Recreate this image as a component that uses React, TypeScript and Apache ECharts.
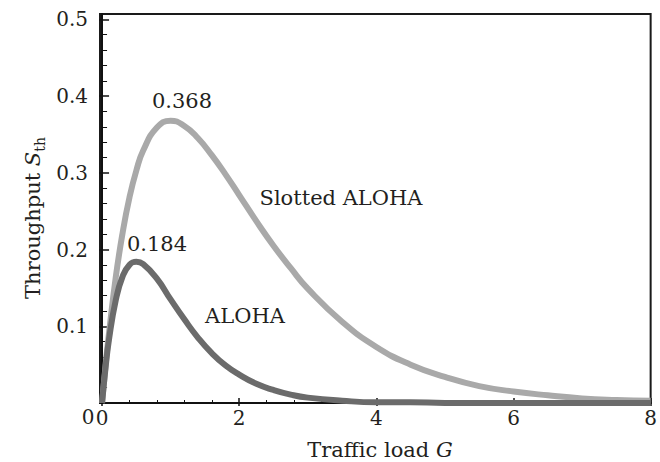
import React, { useEffect, useRef } from "react";
import * as echarts from "echarts";

// Traffic load G (x) and throughput S for each protocol
const loadG = [0, 0.05, 0.1, 0.2, 0.3, 0.4, 0.5, 0.6, 0.8, 1.0, 1.2, 1.4, 1.6, 1.8, 2.0, 2.25, 2.5, 2.75, 3.0, 3.5, 4.0, 4.5, 5.0, 5.5, 6.0, 6.5, 7.0, 7.5, 8.0];
const slottedAloha = [0, 0.048, 0.090, 0.164, 0.222, 0.268, 0.303, 0.329, 0.359, 0.368, 0.361, 0.345, 0.323, 0.298, 0.271, 0.237, 0.205, 0.176, 0.149, 0.106, 0.073, 0.050, 0.034, 0.022, 0.015, 0.010, 0.006, 0.004, 0.003];
const pureAloha = [0, 0.045, 0.082, 0.134, 0.165, 0.180, 0.184, 0.181, 0.162, 0.135, 0.109, 0.085, 0.065, 0.049, 0.037, 0.025, 0.017, 0.011, 0.007, 0.003, 0.001, 0.001, 0, 0, 0, 0, 0, 0, 0];

// Axis ticks
const xMajorTicks = [0, 2, 4, 6, 8];
const xMinorTicks = [0.4, 0.8, 1.2, 1.6, 2.4, 2.8, 3.2, 3.6, 4.4, 4.8, 5.2, 5.6, 6.4, 6.8, 7.2, 7.6];
const yMajorTicks = [0.1, 0.2, 0.3, 0.4, 0.5];
const yMinorTicks = [0.02, 0.04, 0.06, 0.08, 0.12, 0.14, 0.16, 0.18, 0.22, 0.24, 0.26, 0.28, 0.32, 0.34, 0.36, 0.38, 0.42, 0.44, 0.46, 0.48];

const X_MIN = -0.03;
const X_MAX = 8;
const Y_MIN = 0;
const Y_MAX = 0.507;

const SERIF = "DejaVu Serif";
const INK = "#231f20";

export default function App() {
  const ref = useRef<HTMLDivElement>(null);

  useEffect(() => {
    if (!ref.current) return;
    const chart = echarts.init(ref.current, null, { renderer: "svg" });

    const baseX = { type: "value", gridIndex: 0, min: X_MIN, max: X_MAX, splitLine: { show: false } };
    const baseY = { type: "value", gridIndex: 0, min: Y_MIN, max: Y_MAX, splitLine: { show: false } };

    const option: any = {
      animation: false,
      backgroundColor: "#ffffff",
      textStyle: { fontFamily: SERIF },
      grid: {
        left: 100,
        right: 4,
        top: 14,
        bottom: 59,
        show: true,
        borderColor: "#1a1a1a",
        borderWidth: 2,
        backgroundColor: "transparent",
      },
      xAxis: [
        {
          ...baseX,
          position: "bottom",
          axisLine: { show: true, lineStyle: { color: "#111", width: 2 } },
          axisTick: { show: true, inside: true, length: 5, customValues: xMajorTicks, lineStyle: { color: "#111", width: 1.5 } },
          axisLabel: {
            show: true,
            customValues: xMajorTicks,
            margin: 5,
            fontFamily: SERIF,
            fontSize: 20,
            color: INK,
            formatter: (v: number) => String(Math.round(v)),
          },
        },
        {
          ...baseX,
          position: "bottom",
          axisLine: { show: false },
          axisTick: { show: true, inside: true, length: 3, customValues: xMinorTicks, lineStyle: { color: "#111", width: 1 } },
          axisLabel: { show: false },
        },
        {
          ...baseX,
          position: "bottom",
          axisLine: { show: false },
          axisTick: { show: true, inside: false, length: 3, customValues: xMajorTicks, lineStyle: { color: "#111", width: 1.5 } },
          axisLabel: { show: false },
        },
      ],
      yAxis: [
        {
          ...baseY,
          position: "left",
          axisLine: { show: true, lineStyle: { color: "#111", width: 2 } },
          axisTick: { show: true, inside: true, length: 7, customValues: yMajorTicks, lineStyle: { color: "#111", width: 1.5 } },
          axisLabel: {
            show: true,
            customValues: yMajorTicks,
            margin: 12,
            fontFamily: SERIF,
            fontSize: 20,
            color: INK,
            formatter: (v: number) => v.toFixed(1),
          },
        },
        {
          ...baseY,
          position: "left",
          axisLine: { show: false },
          axisTick: { show: true, inside: true, length: 5, customValues: yMinorTicks, lineStyle: { color: "#111", width: 1 } },
          axisLabel: { show: false },
        },
        {
          ...baseY,
          position: "left",
          axisLine: { show: false },
          axisTick: { show: true, inside: false, length: 3, customValues: yMajorTicks, lineStyle: { color: "#111", width: 1.5 } },
          axisLabel: { show: false },
        },
      ],
      series: [
        {
          name: "Slotted ALOHA",
          type: "line",
          xAxisIndex: 0,
          yAxisIndex: 0,
          data: loadG.map((g, i) => [g, slottedAloha[i]]),
          showSymbol: false,
          smooth: true,
          lineStyle: { color: "#a9a9a9", width: 6 },
          z: 3,
        },
        {
          name: "ALOHA",
          type: "line",
          xAxisIndex: 0,
          yAxisIndex: 0,
          data: loadG.map((g, i) => [g, pureAloha[i]]),
          showSymbol: false,
          smooth: true,
          lineStyle: { color: "#6b6b6b", width: 6 },
          z: 4,
        },
      ],
      graphic: [
        {
          type: "text",
          x: 182,
          y: 101,
          style: { text: "0.368", fontFamily: SERIF, fontSize: 21, fill: INK, align: "center", verticalAlign: "middle" },
        },
        {
          type: "text",
          x: 341,
          y: 198,
          style: { text: "Slotted ALOHA", fontFamily: SERIF, fontSize: 21, fill: INK, align: "center", verticalAlign: "middle" },
        },
        {
          type: "text",
          x: 157,
          y: 244,
          style: { text: "0.184", fontFamily: SERIF, fontSize: 21, fill: INK, align: "center", verticalAlign: "middle" },
        },
        {
          type: "text",
          x: 245,
          y: 316,
          style: { text: "ALOHA", fontFamily: SERIF, fontSize: 21, fill: INK, align: "center", verticalAlign: "middle" },
        },
        {
          type: "text",
          x: 88,
          y: 417,
          style: { text: "0", fontFamily: SERIF, fontSize: 20, fill: INK, align: "center", verticalAlign: "middle" },
        },
        {
          type: "text",
          x: 380,
          y: 450,
          style: {
            text: "{a|Traffic load }{b|G}",
            align: "center",
            verticalAlign: "middle",
            rich: {
              a: { fontFamily: SERIF, fontSize: 21, fill: INK, lineHeight: 26 },
              b: { fontFamily: SERIF, fontSize: 21, fontStyle: "italic", fill: INK, lineHeight: 26 },
            },
          },
        },
        {
          type: "text",
          x: 33,
          y: 218,
          rotation: Math.PI / 2,
          style: {
            text: "{a|Throughput }{b|S}{c|th}",
            align: "center",
            verticalAlign: "middle",
            rich: {
              a: { fontFamily: SERIF, fontSize: 21, fill: INK, lineHeight: 28, verticalAlign: "middle" },
              b: { fontFamily: SERIF, fontSize: 21, fontStyle: "italic", fill: INK, lineHeight: 28, verticalAlign: "middle" },
              c: { fontFamily: SERIF, fontSize: 14, fill: INK, lineHeight: 28, verticalAlign: "bottom" },
            },
          },
        },
      ],
    };

    chart.setOption(option);
    return () => chart.dispose();
  }, []);

  return (
    <div
      ref={ref}
      style={{ position: "absolute", left: 0, top: 0, width: 660, height: 462 }}
    />
  );
}
